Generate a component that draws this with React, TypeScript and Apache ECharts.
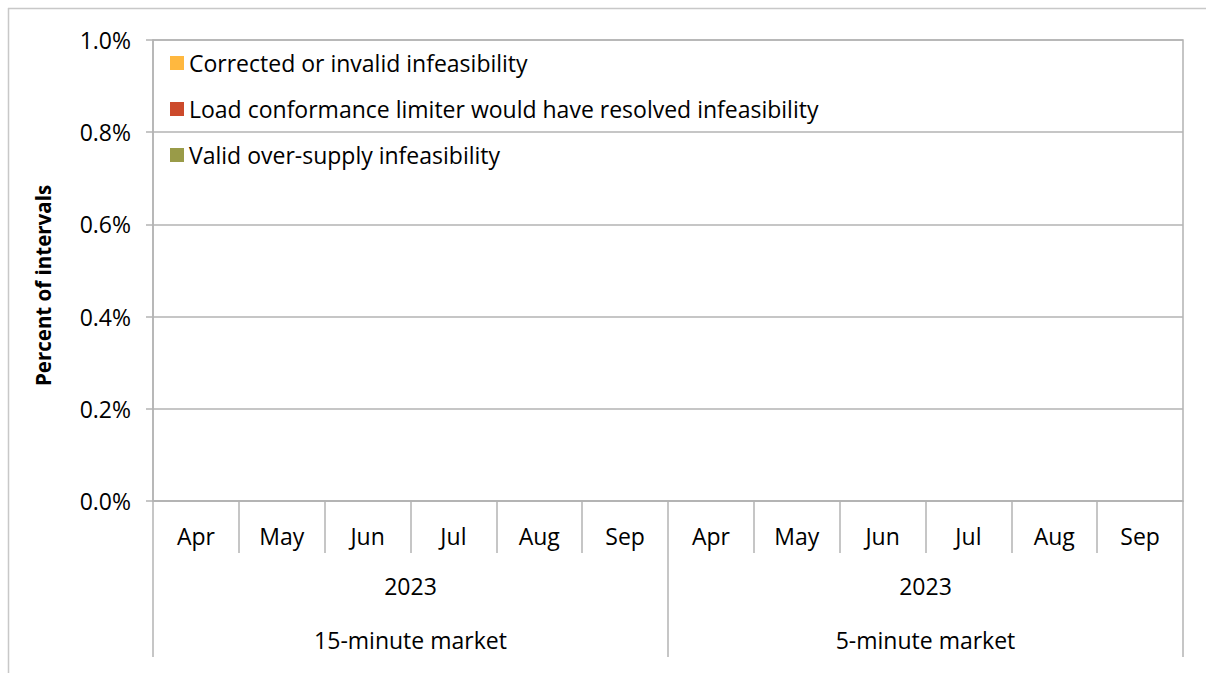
import React, { useEffect, useRef } from "react";
import * as echarts from "echarts";

const MONTHS = ["Apr", "May", "Jun", "Jul", "Aug", "Sep", "Apr", "May", "Jun", "Jul", "Aug", "Sep"];
const YEARS = ["2023", "2023"];
const MARKETS = ["15-minute market", "5-minute market"];
const SERIES_NAMES = [
  "Corrected or invalid infeasibility",
  "Load conformance limiter would have resolved infeasibility",
  "Valid over-supply infeasibility",
];
const COLORS = ["#FFB83F", "#CC4A2B", "#999B48"];
const CORRECTED = [0, 0, 0, 0, 0, 0, 0, 0, 0, 0, 0, 0];
const LCL = [0, 0, 0, 0, 0, 0, 0, 0, 0, 0, 0, 0];
const VALID = [0, 0, 0, 0, 0, 0, 0, 0, 0, 0, 0, 0];
const Y_TICKS = [0, 0.2, 0.4, 0.6, 0.8, 1.0];

const FONT = "Open Sans";
const FS = 23;
const GRID_COLOR = "#b3b3b3";

export default function App() {
  const ref = useRef<HTMLDivElement>(null);
  useEffect(() => {
    if (!ref.current) return;
    const chart = echarts.init(ref.current, undefined, { renderer: "svg" });
    const values = [CORRECTED, LCL, VALID];
    chart.setOption({
      animation: false,
      backgroundColor: "#ffffff",
      textStyle: { fontFamily: FONT },
      grid: {
        left: 153,
        top: 40,
        right: 1206 - 1183,
        bottom: 673 - 501,
        containLabel: false,
        show: true,
        borderColor: GRID_COLOR,
        borderWidth: 1.5,
      },
      legend: {
        orient: "vertical",
        left: 170,
        top: 51,
        padding: 0,
        itemWidth: 14,
        itemHeight: 14,
        itemGap: 22,
        icon: "rect",
        textStyle: { fontFamily: FONT, fontSize: FS, color: "#000", lineHeight: 24 },
        data: SERIES_NAMES,
      },
      xAxis: [
        {
          type: "category",
          data: MONTHS,
          position: "bottom",
          axisLine: { show: true, lineStyle: { color: GRID_COLOR, width: 1.5 } },
          axisTick: { show: true, length: 52, lineStyle: { color: GRID_COLOR, width: 1.5 } },
          axisLabel: { color: "#000", fontSize: FS, fontFamily: FONT, margin: 23, interval: 0 },
        },
        {
          type: "category",
          data: YEARS,
          position: "bottom",
          offset: 52,
          axisLine: { show: false },
          axisTick: { show: true, length: 104, lineStyle: { color: GRID_COLOR, width: 1.5 } },
          axisLabel: { color: "#000", fontSize: FS, fontFamily: FONT, margin: 21, interval: 0 },
        },
        {
          type: "category",
          data: MARKETS,
          position: "bottom",
          offset: 104,
          axisLine: { show: false },
          axisTick: { show: false },
          axisLabel: { color: "#000", fontSize: FS, fontFamily: FONT, margin: 23, interval: 0 },
        },
      ],
      yAxis: {
        type: "value",
        min: Y_TICKS[0],
        max: Y_TICKS[Y_TICKS.length - 1],
        interval: 0.2,
        name: "Percent of intervals",
        nameLocation: "middle",
        nameRotate: 90,
        nameGap: 100,
        nameTextStyle: {
          fontFamily: FONT,
          fontSize: 20.5,
          fontWeight: "bold",
          color: "#000",
          padding: [0, 30, 0, 0],
        },
        axisLine: { show: true, lineStyle: { color: GRID_COLOR, width: 1.5 } },
        axisTick: { show: true, length: 7, lineStyle: { color: GRID_COLOR, width: 1.5 } },
        splitLine: { show: true, lineStyle: { color: GRID_COLOR, width: 1.5 } },
        axisLabel: {
          color: "#000",
          fontSize: FS,
          fontFamily: FONT,
          margin: 22,
          formatter: (v: number) => `${v.toFixed(1)}%`,
        },
      },
      graphic: [
        { type: "line", shape: { x1: 8, y1: 8.5, x2: 1206, y2: 8.5 }, style: { stroke: "#c8c8c8", lineWidth: 1.5 } },
        { type: "line", shape: { x1: 8.5, y1: 8, x2: 8.5, y2: 673 }, style: { stroke: "#c8c8c8", lineWidth: 1.5 } },
      ],
      series: SERIES_NAMES.map((name, i) => ({
        name,
        type: "bar",
        stack: "total",
        xAxisIndex: 0,
        data: values[i],
        itemStyle: { color: COLORS[i] },
        barCategoryGap: "50%",
      })),
    });
    return () => chart.dispose();
  }, []);
  return <div ref={ref} style={{ position: "fixed", left: 0, top: 0, width: 1206, height: 673 }} />;
}
